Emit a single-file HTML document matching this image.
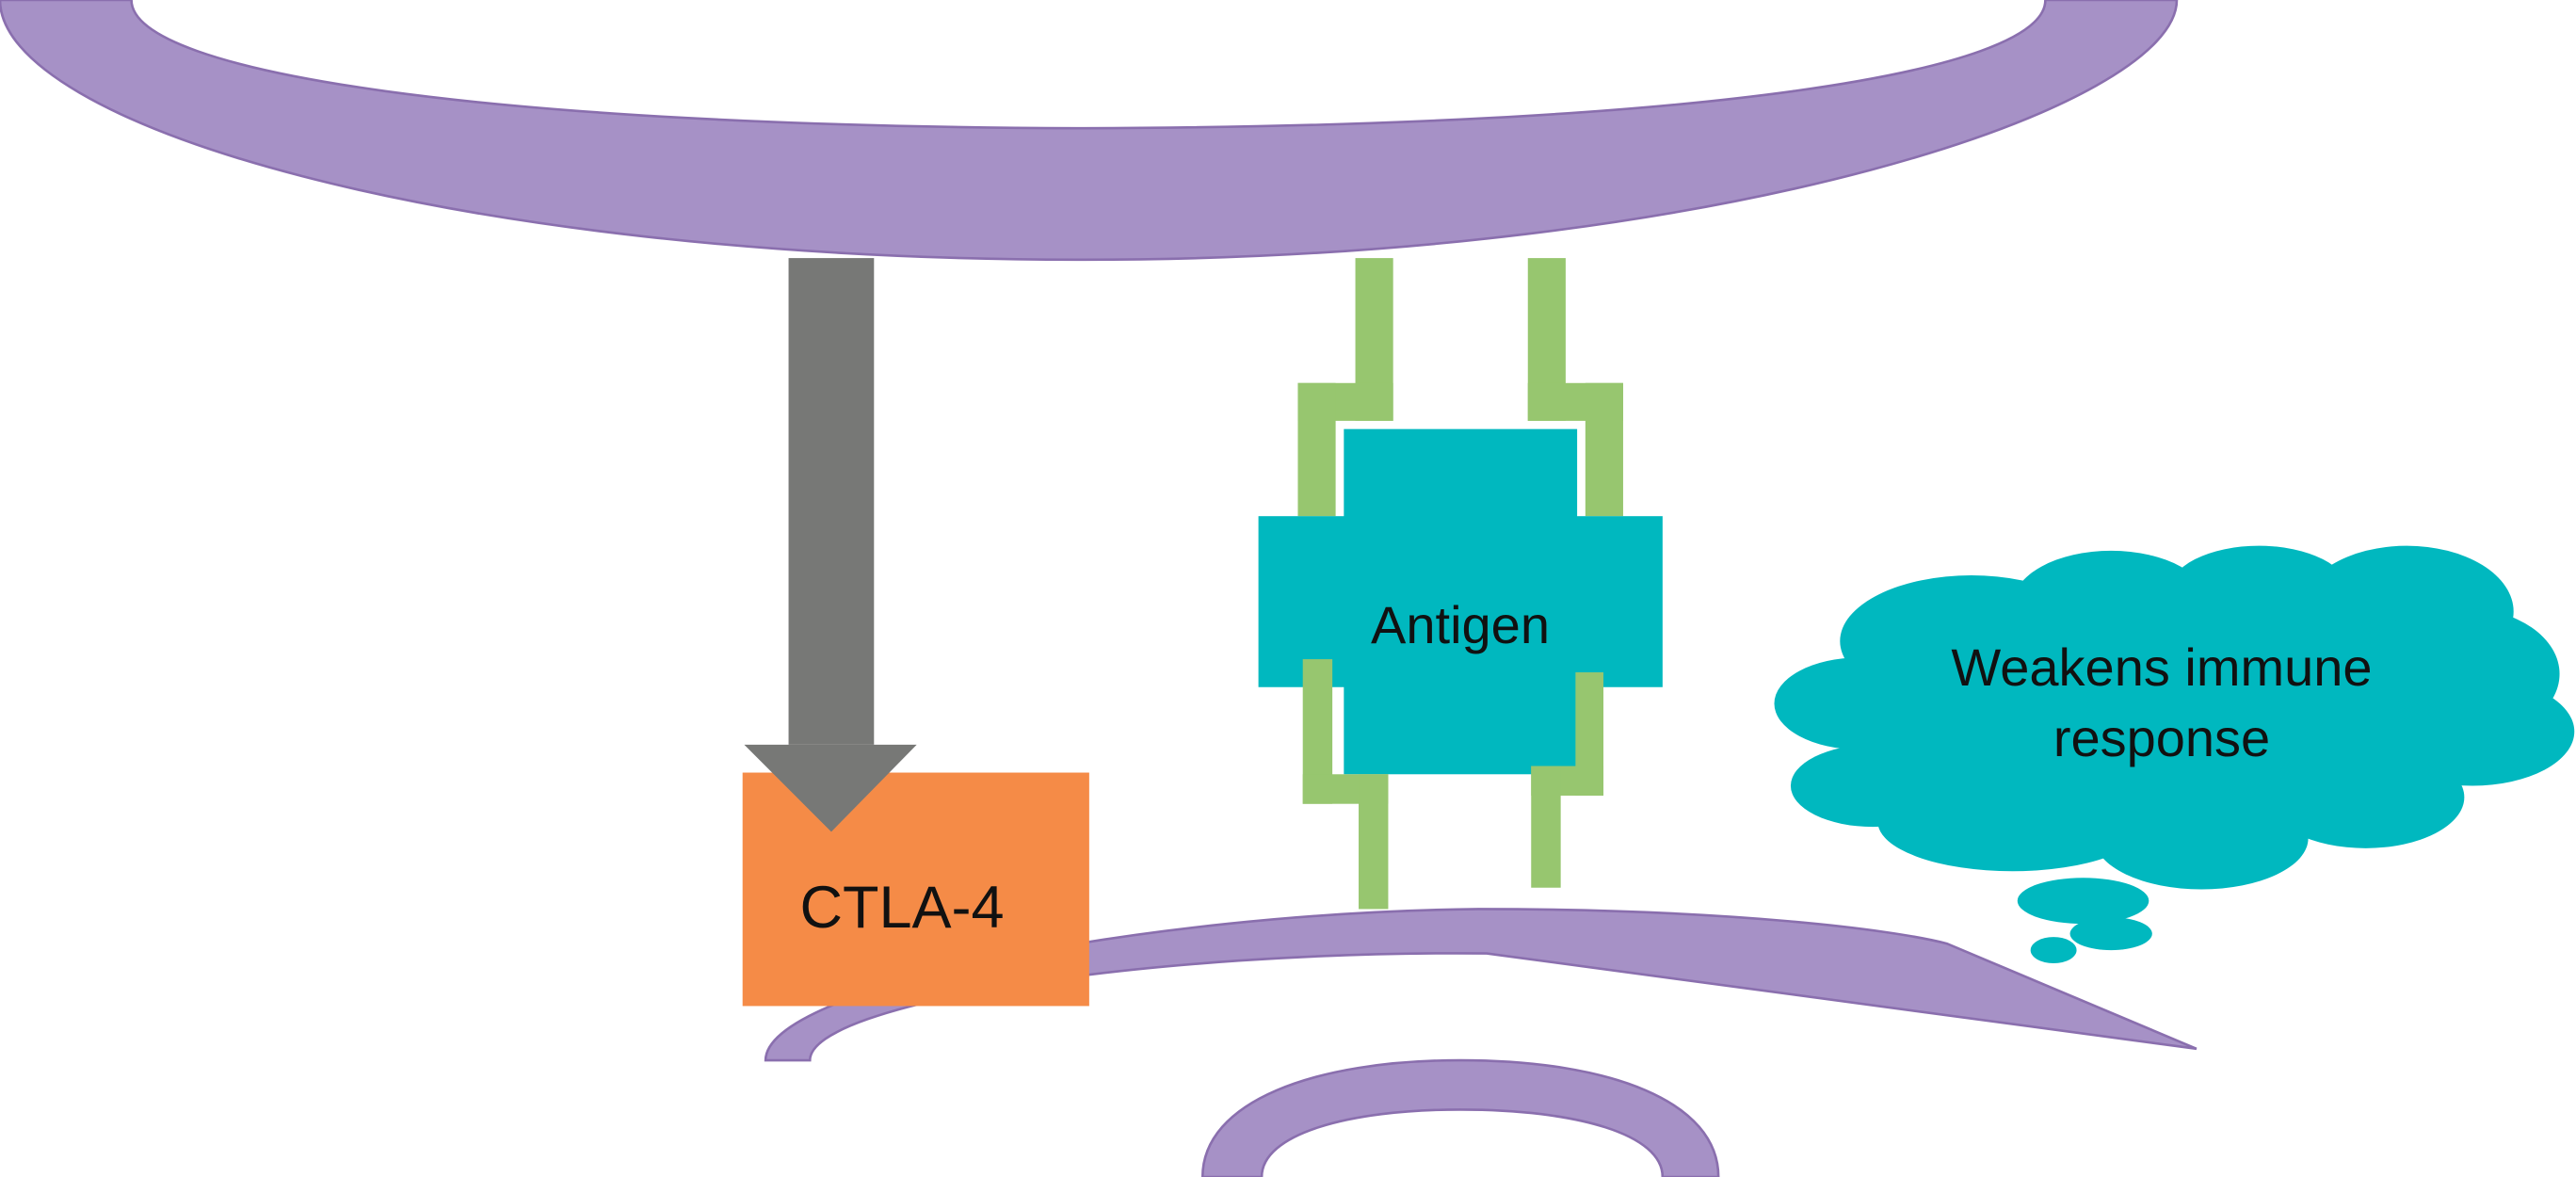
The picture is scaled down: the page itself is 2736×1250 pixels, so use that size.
<!DOCTYPE html>
<html><head><meta charset="utf-8"><style>
html,body{margin:0;padding:0;background:#fff;}
svg{display:block;position:absolute;left:0;top:0;}
</style></head><body>
<svg width="2736" height="1250" viewBox="0 0 1568 716" xmlns="http://www.w3.org/2000/svg" preserveAspectRatio="none">
<rect width="1568" height="716" fill="#fff"/>
<path d="M0,0 L80,0 C80,45 300,77 660,78 C1030,77 1245,45 1245,0 L1325,0 C1325,65 1050,158 660,158 C270,158 0,75 0,0 Z" fill="#a691c6" stroke="#8a6fae" stroke-width="1.5"/>
<path d="M466,645 C466,600 700,555 900,553 C1050,553 1150,565 1185,574 L1337,638 L905,580 C700,578 493,610 493,645 Z" fill="#a691c6" stroke="#8a6fae" stroke-width="1.5"/>
<path d="M732,716 C732,670 800,645 889,645 C980,645 1046,670 1046,716 L1012,716 C1012,690 960,675 889,675 C820,675 768,690 768,716 Z" fill="#a691c6" stroke="#8a6fae" stroke-width="1.5"/>
<rect x="480" y="157" width="52" height="296" fill="#777876"/>
<rect x="452" y="470" width="211" height="142" fill="#f58b47"/>
<polygon points="453,453 558,453 506,506" fill="#777876"/>
<g fill="#97c66f">
<rect x="825" y="157" width="23" height="99"/>
<rect x="790" y="233" width="58" height="23"/>
<rect x="790" y="233" width="23" height="81"/>
<rect x="930" y="157" width="23" height="99"/>
<rect x="930" y="233" width="58" height="23"/>
<rect x="965" y="233" width="23" height="81"/>
</g>
<g fill="#00b8bf">
<rect x="818" y="261" width="142" height="60"/>
<rect x="766" y="314" width="246" height="104"/>
<rect x="818" y="410" width="142" height="61"/>
</g>
<g fill="#97c66f">
<rect x="793" y="401" width="18" height="88"/>
<rect x="793" y="471" width="52" height="18"/>
<rect x="827" y="471" width="18" height="82"/>
<rect x="959" y="409" width="17" height="75"/>
<rect x="932" y="466" width="44" height="18"/>
<rect x="932" y="466" width="18" height="74"/>
</g>
<g fill="#00b8bf">
<ellipse cx="1200" cy="390" rx="80" ry="40"/>
<ellipse cx="1285" cy="368" rx="60" ry="33"/>
<ellipse cx="1375" cy="360" rx="55" ry="28"/>
<ellipse cx="1465" cy="372" rx="65" ry="40"/>
<ellipse cx="1500" cy="410" rx="58" ry="40"/>
<ellipse cx="1505" cy="445" rx="62" ry="33"/>
<ellipse cx="1440" cy="485" rx="60" ry="31"/>
<ellipse cx="1340" cy="510" rx="65" ry="31"/>
<ellipse cx="1225" cy="500" rx="82" ry="30"/>
<ellipse cx="1140" cy="478" rx="50" ry="25"/>
<ellipse cx="1132" cy="428" rx="52" ry="28"/>
<ellipse cx="1320" cy="435" rx="200" ry="80"/>
<ellipse cx="1268" cy="548" rx="40" ry="14"/>
<ellipse cx="1285" cy="568" rx="25" ry="10"/>
<ellipse cx="1250" cy="578" rx="14" ry="8"/>
</g>
</svg>
<svg width="2736" height="1250" xmlns="http://www.w3.org/2000/svg">
<g font-family="Liberation Sans, sans-serif" text-anchor="middle" fill="#111">
<text x="958" y="985" font-size="63">CTLA-4</text>
<text x="1551" y="683" font-size="56">Antigen</text>
<text x="2296" y="728" font-size="56">Weakens immune</text>
<text x="2296" y="803" font-size="56">response</text>
</g>
</svg>
</body></html>
